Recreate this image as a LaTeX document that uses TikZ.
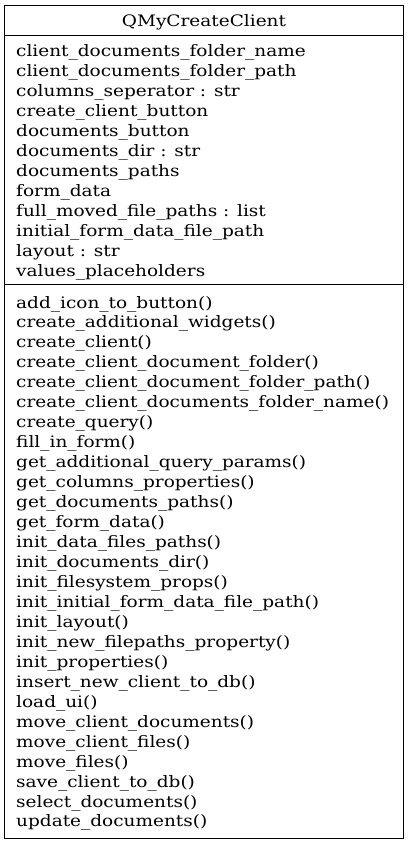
\documentclass[tikz,border=0pt]{standalone}
\usepackage{fontspec}
\setmainfont{DejaVu Serif}[FakeStretch=1.17]
\begin{document}
\begin{tikzpicture}[x=1pt,y=-1pt,
  cls/.style={draw=black,line width=0.9pt},
  txt/.style={anchor=base west,inner sep=0pt,font=\fontsize{15.8}{20}\selectfont},
  ttl/.style={anchor=base,inner sep=0pt,font=\fontsize{15.8}{20}\selectfont}]
\useasboundingbox (0,0) rectangle (408,844);
\coordinate (tl) at (4.5,5);
\coordinate (br) at (403.5,838.5);
\coordinate (s1l) at (4.5,35); \coordinate (s1r) at (403.5,35);
\coordinate (s2l) at (4.5,284); \coordinate (s2r) at (403.5,284);
\draw[cls] (tl) rectangle (br);
\draw[cls] (s1l) -- (s1r);
\draw[cls] (s2l) -- (s2r);
\node[ttl] (title) at (204,26) {QMyCreateClient};
\foreach \t [count=\i] in {client\_documents\_folder\_name,client\_documents\_folder\_path,columns\_seperator : str,create\_client\_button,documents\_button,documents\_dir : str,documents\_paths,form\_data,full\_moved\_file\_paths : list,initial\_form\_data\_file\_path,layout : str,values\_placeholders}
  \node[txt] (a\i) at (16,{56+20*(\i-1)}) {\t};
\foreach \t [count=\i] in {add\_icon\_to\_button(),create\_additional\_widgets(),create\_client(),create\_client\_document\_folder(),create\_client\_document\_folder\_path(),create\_client\_documents\_folder\_name(),create\_query(),fill\_in\_form(),get\_additional\_query\_params(),get\_columns\_properties(),get\_documents\_paths(),get\_form\_data(),init\_data\_files\_paths(),init\_documents\_dir(),init\_filesystem\_props(),init\_initial\_form\_data\_file\_path(),init\_layout(),init\_new\_filepaths\_property(),init\_properties(),insert\_new\_client\_to\_db(),load\_ui(),move\_client\_documents(),move\_client\_files(),move\_files(),save\_client\_to\_db(),select\_documents(),update\_documents()}
  \node[txt] (m\i) at (16,{308+19.96*(\i-1)}) {\t};
\end{tikzpicture}
\end{document}
